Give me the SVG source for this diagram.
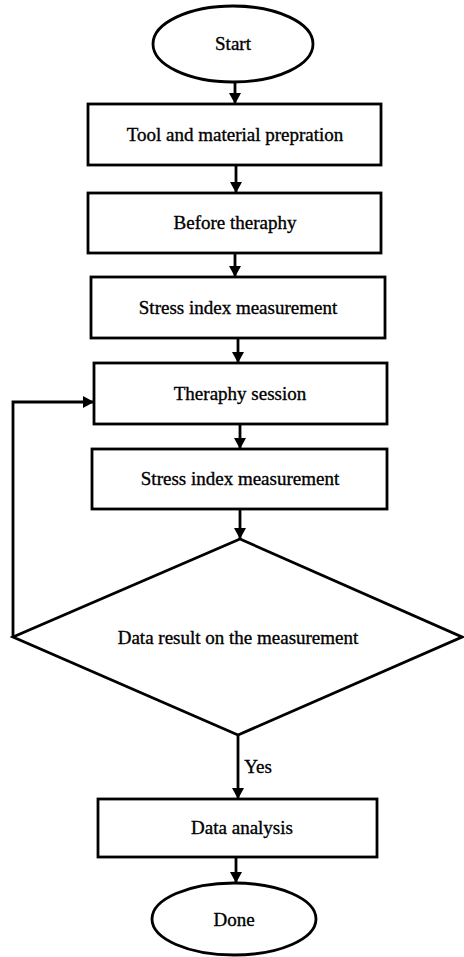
<svg xmlns="http://www.w3.org/2000/svg" width="464" height="957" viewBox="0 0 464 957">
<style>
.n{fill:#fff;stroke:#000;stroke-width:2.8}
.t{font-family:"Liberation Serif","Times New Roman",serif;font-size:19px;fill:#000;stroke:#000;stroke-width:0.35;text-anchor:middle}
.c{fill:none;stroke:#000;stroke-width:2.8}
</style>
<defs>
<marker id="a" markerUnits="userSpaceOnUse" markerWidth="12" markerHeight="12" refX="11" refY="6" orient="auto">
<path d="M0,0 L11,6 L0,12 Z" fill="#000"/>
</marker>
</defs>
<rect width="464" height="957" fill="#fff"/>
<g id="connectors">
<path class="c" d="M235,82 V104" marker-end="url(#a)"/>
<path class="c" d="M236,165 V193" marker-end="url(#a)"/>
<path class="c" d="M235,253 V277" marker-end="url(#a)"/>
<path class="c" d="M238,338 V363" marker-end="url(#a)"/>
<path class="c" d="M240,424 V449" marker-end="url(#a)"/>
<path class="c" d="M240,509 V539" marker-end="url(#a)"/>
<path class="c" d="M13,637 V402 H94" marker-end="url(#a)"/>
<path class="c" d="M238,735 V799" marker-end="url(#a)"/>
<path class="c" d="M236,857 V883" marker-end="url(#a)"/>
<text class="t" x="258" y="773">Yes</text>
</g>
<g id="start"><ellipse class="n" cx="233" cy="44" rx="80" ry="38"/><text class="t" x="233" y="50">Start</text></g>
<g id="prep"><rect class="n" x="88" y="104" width="293" height="61"/><text class="t" x="235" y="141">Tool and material prepration</text></g>
<g id="before"><rect class="n" x="88" y="193" width="293" height="60"/><text class="t" x="235" y="229">Before theraphy</text></g>
<g id="stress1"><rect class="n" x="91" y="277" width="294" height="61"/><text class="t" x="238" y="314">Stress index measurement</text></g>
<g id="session"><rect class="n" x="94" y="363" width="293" height="61"/><text class="t" x="240" y="400">Theraphy session</text></g>
<g id="stress2"><rect class="n" x="92" y="449" width="295" height="60"/><text class="t" x="240" y="485">Stress index measurement</text></g>
<g id="decision"><path class="n" d="M240,539 L462,637 L238,735 L13,637 Z"/><text class="t" x="238" y="644">Data result on the measurement</text></g>
<g id="analysis"><rect class="n" x="98" y="799" width="279" height="58"/><text class="t" x="242" y="834">Data analysis</text></g>
<g id="done"><ellipse class="n" cx="234" cy="919" rx="82" ry="36"/><text class="t" x="234" y="926">Done</text></g>
</svg>
